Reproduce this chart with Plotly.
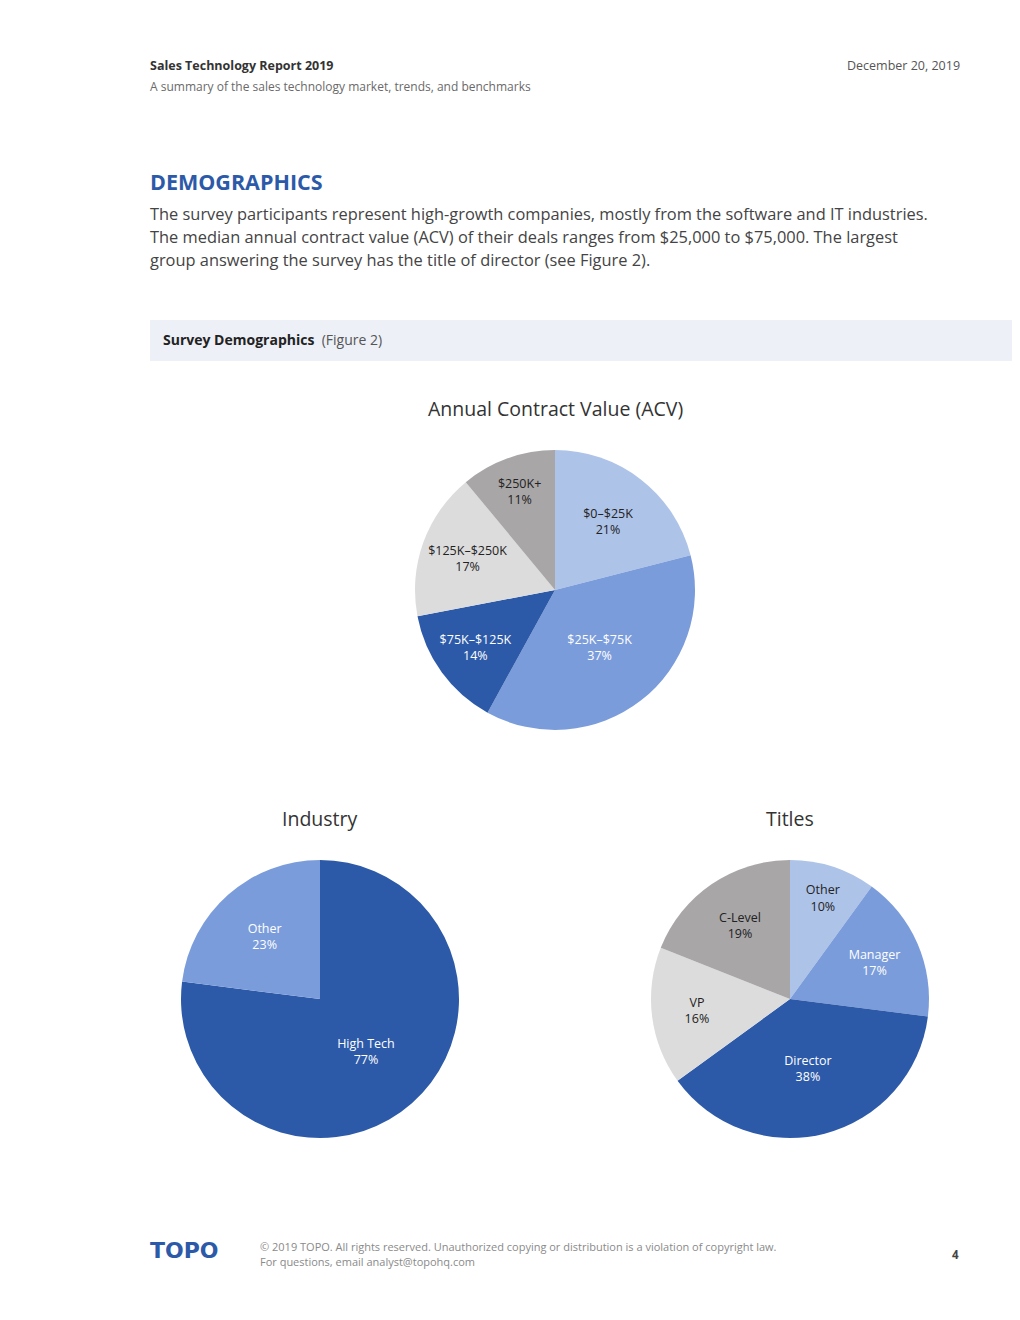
import plotly.graph_objects as go

W, H = 1020, 1300
OFF = 8  # page offset of the figure inside the browser window

# ---- data ----
acv_labels = ["$0–$25K", "$25K–$75K", "$75K–$125K", "$125K–$250K", "$250K+"]
acv_values = [21, 37, 14, 17, 11]
industry_labels = ["High Tech", "Other"]
industry_values = [77, 23]
title_labels = ["Other", "Manager", "Director", "VP", "C-Level"]
title_values = [10, 17, 38, 16, 19]

LB = "#aec3e8"
MB = "#7b9cdb"
DB = "#2c5aa8"
LG = "#dcdcdc"
GR = "#a8a6a7"
acv_colors = [LB, MB, DB, LG, GR]
acv_text = ["#222222", "#ffffff", "#ffffff", "#222222", "#222222"]
ind_colors = [DB, MB]
ind_text = ["#ffffff", "#ffffff"]
tit_colors = [LB, MB, DB, LG, GR]
tit_text = ["#222222", "#ffffff", "#ffffff", "#222222", "#222222"]

FONT = "Open Sans"


def dx(px):
    return (px - OFF) / W


def dy(py):
    return 1 - (py - OFF) / H


def pie(labels, values, colors, tcolors, cx, cy, r):
    return go.Pie(
        labels=labels, values=values, sort=False, direction="clockwise",
        rotation=0,
        marker=dict(colors=colors, line=dict(width=0)),
        texttemplate="%{label}<br>%{value}%",
        textposition="inside", insidetextorientation="horizontal",
        textfont=dict(family=FONT, size=12.5, color=tcolors),
        hoverinfo="label+percent",
        domain=dict(x=[dx(cx - r), dx(cx + r)], y=[dy(cy + r), dy(cy - r)]),
        showlegend=False,
    )


fig = go.Figure()
fig.add_trace(pie(acv_labels, acv_values, acv_colors, acv_text, 555, 590, 140))
fig.add_trace(pie(industry_labels, industry_values, ind_colors, ind_text, 320, 999, 139))
fig.add_trace(pie(title_labels, title_values, tit_colors, tit_text, 790, 999, 139))

ann = []


def text(x, y, s, size, color, xanchor="left", bold=False, family=FONT):
    shift = -2 if xanchor == "left" else (2 if xanchor == "right" else 0)
    ann.append(dict(
        x=dx(x + shift), y=dy(y), xref="paper", yref="paper", text=(f"<b>{s}</b>" if bold else s),
        showarrow=False, xanchor=xanchor, yanchor="middle",
        font=dict(family=family, size=size, color=color),
    ))


text(150, 66, "Sales Technology Report 2019", 12.5, "#333333", bold=True)
text(150, 86, "A summary of the sales technology market, trends, and benchmarks", 12, "#6a6a6a")
text(960, 66, "December 20, 2019", 12.5, "#555555", xanchor="right")
text(150, 181, "DEMOGRAPHICS", 21.5, "#2c5aa8", bold=True)
para = [
    "The survey participants represent high-growth companies, mostly from the software and IT industries.",
    "The median annual contract value (ACV) of their deals ranges from $25,000 to $75,000. The largest",
    "group answering the survey has the title of director (see Figure 2).",
]
for i, line in enumerate(para):
    text(150, 214 + 23 * i, line, 16.4, "#444444")
text(163, 340, "<b>Survey Demographics</b>  <span style='color:#555'>(Figure 2)</span>", 14, "#222222")
text(555, 408, "Annual Contract Value (ACV)", 19.5, "#333333", xanchor="center")
text(320, 818, "Industry", 19.5, "#333333", xanchor="center")
text(790, 818, "Titles", 19.5, "#333333", xanchor="center")
text(150, 1250, "TOPO", 22, "#2c5aa8", bold=True, family="DejaVu Sans")
text(260, 1246, "© 2019 TOPO. All rights reserved. Unauthorized copying or distribution is a violation of copyright law.", 11, "#8a8a8a")
text(260, 1261, "For questions, email analyst@topohq.com", 11, "#8a8a8a")
text(959, 1254, "4", 11.5, "#444444", xanchor="right", bold=True)

fig.update_layout(
    width=W, height=H, autosize=False,
    margin=dict(l=0, r=0, t=0, b=0),
    paper_bgcolor="white", plot_bgcolor="white",
    annotations=ann,
    shapes=[dict(type="rect", xref="paper", yref="paper",
                 x0=dx(150), x1=dx(1030), y0=dy(361), y1=dy(320),
                 fillcolor="#edf0f7", line=dict(width=0), layer="below")],
    font=dict(family=FONT),
)

fig.write_html("out.html")
